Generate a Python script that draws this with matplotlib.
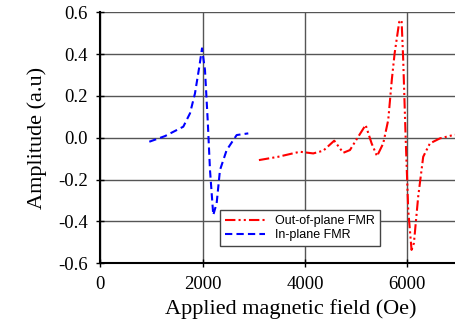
import matplotlib
matplotlib.use("Agg")
import matplotlib.pyplot as plt

# In-plane FMR (blue dashed)
inplane_x = [956, 1263, 1621, 1752, 1849, 1934, 1987, 2045, 2098, 2143, 2207,
             2273, 2338, 2469, 2665, 2892]
inplane_y = [-0.019, 0.008, 0.053, 0.117, 0.212, 0.34, 0.428, 0.324, 0.085,
             -0.155, -0.37, -0.314, -0.155, -0.059, 0.013, 0.021]

# Out-of-plane FMR (red dash-dot-dot)
outplane_x = [3100, 3478, 3902, 4162, 4358, 4573, 4749, 4880, 5042, 5187, 5304,
              5410, 5531, 5629, 5700, 5754, 5844, 5890, 5922, 5969, 6020, 6085,
              6131, 6215, 6313, 6444, 6640, 6900, 7200]
outplane_y = [-0.107, -0.091, -0.067, -0.075, -0.062, -0.014, -0.072, -0.059,
              0.005, 0.061, -0.027, -0.088, -0.027, 0.085, 0.28, 0.404, 0.555,
              0.563, 0.372, 0.005, -0.346, -0.537, -0.505, -0.282, -0.091,
              -0.027, -0.003, 0.013, 0.02]

xticks = [0, 2000, 4000, 6000]
yticks = [-0.6, -0.4, -0.2, 0.0, 0.2, 0.4, 0.6]
ytick_labels = ["-0.6", "-0.4", "-0.2", "0.0", "0.2", "0.4", "0.6"]

fig = plt.figure(figsize=(4.55, 3.28), dpi=100)
ax = fig.add_axes([0.2207, 0.198, 0.899, 0.764])

serif = ["Liberation Serif", "DejaVu Serif"]
sans = ["Liberation Sans", "DejaVu Sans"]

ax.plot(outplane_x, outplane_y, color="#ff0000", lw=1.5,
        linestyle=(0, (5, 1.5, 1, 1.5, 1, 1.5)), label="Out-of-plane FMR")
ax.plot(inplane_x, inplane_y, color="#0000ff", lw=1.5,
        linestyle=(0, (3.5, 2)), label="In-plane FMR")

ax.set_xlim(0, 8000)
ax.set_ylim(-0.6, 0.6)
ax.set_xticks(xticks)
ax.set_yticks(yticks)
ax.set_yticklabels(ytick_labels)
for lab in ax.get_xticklabels() + ax.get_yticklabels():
    lab.set_fontfamily(serif)
    lab.set_fontsize(13.5)

ax.grid(True, color="#555555", lw=1.0)
ax.set_axisbelow(True)
for s in ["top", "right"]:
    ax.spines[s].set_visible(False)
for s in ["left", "bottom"]:
    ax.spines[s].set_linewidth(1.5)
    ax.spines[s].set_color("black")
ax.tick_params(direction="inout", length=6, width=1)
ax.tick_params(axis="y", pad=6)
ax.tick_params(axis="x", pad=6)

ax.set_xlabel("Applied magnetic field (Oe)", fontfamily=serif, fontsize=16)
ax.xaxis.set_label_coords(0.465, -0.145)
ax.set_ylabel("Amplitude (a.u)", fontfamily=serif, fontsize=16, labelpad=8)

leg = ax.legend(loc="upper left", bbox_to_anchor=(0.292, 0.212), borderaxespad=0,
                prop={"family": sans, "size": 9}, handlelength=3.2,
                fancybox=False, framealpha=1, edgecolor="#444444",
                labelspacing=0.2, borderpad=0.4)
leg.get_frame().set_linewidth(1.0)

fig.savefig("out.png", dpi=100)
